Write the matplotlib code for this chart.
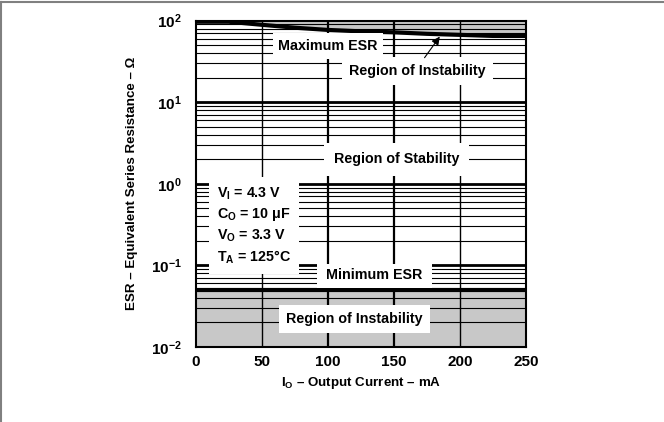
import matplotlib
matplotlib.use("Agg")
import matplotlib.pyplot as plt
import numpy as np

plt.rcParams['font.family'] = ['Liberation Sans', 'DejaVu Sans']
plt.rcParams['font.weight'] = 'bold'
plt.rcParams['axes.labelweight'] = 'bold'
plt.rcParams['mathtext.fontset'] = 'custom'
plt.rcParams['mathtext.rm'] = 'Liberation Sans:bold'
plt.rcParams['mathtext.bf'] = 'Liberation Sans:bold'
plt.rcParams['mathtext.it'] = 'Liberation Sans:bold'
plt.rcParams['mathtext.default'] = 'bf'

# output current (mA) and the maximum ESR limit
current_ma = [0, 25, 50, 75, 100, 125, 150, 175, 200, 225, 250]
max_esr = [97, 97, 89, 82, 77, 74, 72, 69, 67, 65, 65]
min_esr = 0.05

x_ticks = [0, 50, 100, 150, 200, 250]
y_ticks = [1e-2, 1e-1, 1e0, 1e1, 1e2]
y_ticklabels = ['$10^{-2}$', '$10^{-1}$', '$10^{0}$', '$10^{1}$', '$10^{2}$']

conditions = ['V$_I$ = 4.3 V', 'C$_O$ = 10 \u03bcF', 'V$_O$ = 3.3 V', 'T$_A$ = 125\u00b0C']

gray = '#c8c8c8'

fig = plt.figure(figsize=(6.64, 4.22), dpi=100)
ax = fig.add_axes([0.295, 0.178, 0.497, 0.773])

ax.set_yscale('log')
ax.set_xlim(0, 250)
ax.set_ylim(1e-2, 1e2)

# shaded instability regions
ax.fill_between(current_ma, max_esr, 100, color=gray, lw=0, zorder=0)
ax.fill_between([0, 250], 1e-2, min_esr, color=gray, lw=0, zorder=0)

# grid: minor lines per decade, thick lines at decades
for dec in [1e-2, 1e-1, 1e0, 1e1]:
    for m in range(2, 10):
        ax.axhline(dec * m, color='black', lw=0.8, zorder=1)
for dec in y_ticks[1:-1]:
    ax.axhline(dec, color='black', lw=2.0, zorder=1)
for xv in [50, 200]:
    ax.axvline(xv, color='black', lw=1.0, zorder=1)
for xv in [100, 150]:
    ax.axvline(xv, color='black', lw=1.6, zorder=1)

ax.plot(current_ma, max_esr, color='black', lw=3, zorder=3, solid_capstyle='butt')
ax.axhline(min_esr, color='black', lw=3, zorder=3)

fs = 10.3
box = dict(facecolor='white', edgecolor='none', pad=4)
ax.text(100, 49, 'Maximum ESR', ha='center', va='center', fontsize=fs, bbox=box, zorder=5)
ax.text(168, 24.3, 'Region of Instability', ha='center', va='center', fontsize=fs,
        bbox=dict(facecolor='white', edgecolor='none', pad=5), zorder=5)
ax.annotate('', xy=(186, 68), xytext=(172, 33),
            arrowprops=dict(arrowstyle='-|>', color='black', lw=0.8, mutation_scale=12),
            zorder=6)
ax.text(152, 2.0, 'Region of Stability', ha='center', va='center', fontsize=fs,
        bbox=dict(facecolor='white', edgecolor='none', pad=7), zorder=5)
# white patch for "Minimum ESR" reaches down to the limit line
ax.fill_between([92, 179], 0.052, 0.105, color='white', lw=0, zorder=4)
ax.text(135, 0.077, 'Minimum ESR', ha='center', va='center', fontsize=fs, zorder=5)
ax.text(120, 0.0222, 'Region of Instability', ha='center', va='center', fontsize=fs,
        bbox=dict(facecolor='white', edgecolor='none', pad=5), zorder=5)

ax.text(16, 0.95, '\n'.join(conditions), ha='left', va='top', fontsize=fs,
        linespacing=1.35,
        bbox=dict(facecolor='white', edgecolor='none', pad=6), zorder=5)

ax.set_xticks(x_ticks)
ax.set_yticks(y_ticks)
ax.set_yticklabels(y_ticklabels)
ax.yaxis.set_minor_locator(matplotlib.ticker.NullLocator())
ax.tick_params(axis='both', length=0, labelsize=11)
ax.tick_params(axis='y', pad=10)
ax.tick_params(axis='x', pad=6)
for lab in ax.get_xticklabels():
    lab.set_fontweight('bold')

for s in ax.spines.values():
    s.set_linewidth(1.5)

ax.set_xlabel('I$_O$ \u2013 Output Current \u2013 mA', fontsize=9.6)
ax.set_ylabel('ESR \u2013 Equivalent Series Resistance \u2013 \u03a9', fontsize=9.6)
ax.xaxis.set_label_coords(0.5, -0.087)
ax.yaxis.set_label_coords(-0.175, 0.5)

# figure frame (top and left edges only)
fig.add_artist(plt.Line2D([0.002, 0.002], [0, 0.995], color='gray', lw=1.5))
fig.add_artist(plt.Line2D([0, 1], [0.995, 0.995], color='gray', lw=1.5))

fig.savefig('out.png', dpi=100)
